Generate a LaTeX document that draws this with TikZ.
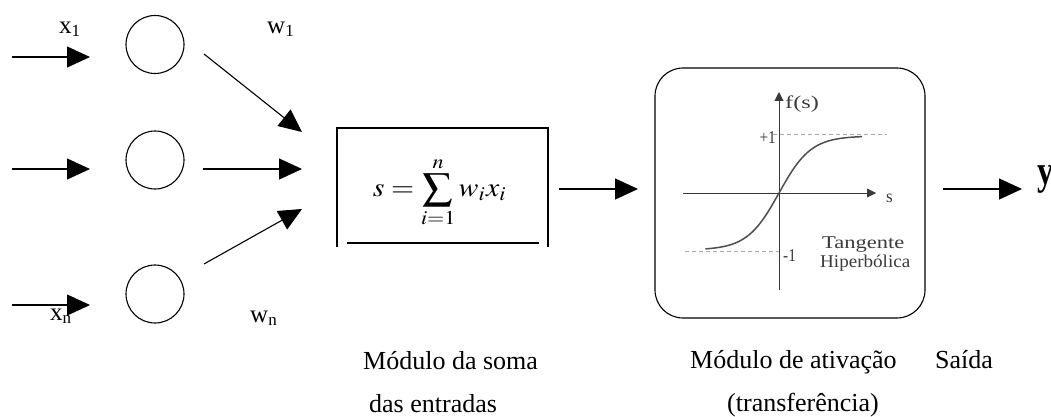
\documentclass[tikz,border=0pt]{standalone}
\usepackage{graphicx}
\usepackage{mathptmx}
\usepackage[no-math]{fontspec}
\setmainfont{Liberation Serif}
\usetikzlibrary{arrows.meta}
\newcommand{\sublab}[2]{{\fontsize{25}{28}\selectfont #1\raisebox{-3pt}{\fontsize{17}{17}\selectfont #2}}}
\newcommand{\gtext}[2]{\scalebox{#1}[1]{\fontsize{18}{18}\selectfont #2}}
\definecolor{graphgray}{HTML}{3A3A3A}
\definecolor{dashgray}{HTML}{A8A8A8}
\begin{document}
\begin{tikzpicture}[x=1pt,y=-1pt,
  lw/.style={line width=1.1pt},
  bigarrow/.style={lw, -{Triangle[length=23pt,width=21pt]}},
  neuron/.style={circle, draw, lw, minimum size=58pt, inner sep=0pt},
  lbl/.style={inner sep=0pt, anchor=base west, font=\fontsize{26}{30}\selectfont},
  axisline/.style={line width=0.9pt, draw=graphgray, -{Triangle[length=9pt,width=9pt]}},
  guide/.style={line width=0.8pt, draw=dashgray, dash pattern=on 4pt off 3pt},
  glbl/.style={inner sep=0pt, text=graphgray}]
\useasboundingbox (0,0) rectangle (1051,417);

% neurons
\node[neuron] (n1) at (155,44.5) {};
\node[neuron] (n2) at (155,160) {};
\node[neuron] (n3) at (155,294) {};

% input arrows
\coordinate (i1s) at (12,57);  \coordinate (i1e) at (90,57);
\coordinate (i2s) at (12,169); \coordinate (i2e) at (90,169);
\coordinate (i3s) at (12,305); \coordinate (i3e) at (90,305);
\draw[bigarrow] (i1s) -- (i1e);
\draw[bigarrow] (i2s) -- (i2e);
\draw[bigarrow] (i3s) -- (i3e);

% labels x, w
\node[inner sep=0pt, anchor=base west] (x1) at (59,34) {\sublab{x}{1}};
\node[inner sep=0pt, anchor=base west] (w1) at (267,34) {\sublab{w}{1}};
\node[inner sep=0pt, anchor=base west] (xn) at (50,320) {\sublab{x}{n}};
\node[inner sep=0pt, anchor=base west] (wn) at (250,322) {\sublab{w}{n}};

% weighted connections
\coordinate (o1) at (204,54);  \coordinate (t1) at (302,132);
\coordinate (o2) at (203,169); \coordinate (t2) at (302,169);
\coordinate (o3) at (204,264); \coordinate (t3) at (302,209);
\draw[bigarrow] (o1) -- (t1);
\draw[bigarrow] (o2) -- (t2);
\draw[bigarrow] (o3) -- (t3);

% summation box
\coordinate (sTL) at (337,128); \coordinate (sTR) at (548,128);
\coordinate (sBL) at (337,247); \coordinate (sBR) at (548,247);
\coordinate (sb1) at (347,243); \coordinate (sb2) at (539,243);
\draw[lw] (sBL) -- (sTL) -- (sTR) -- (sBR);
\draw[lw] (sb1) -- (sb2);
\node[inner sep=0pt] (sum) at (440,192) {\resizebox*{134pt}{70pt}{$\displaystyle s=\sum_{i=1}^{n} w_i x_i$}};

% arrow to activation
\coordinate (m1) at (559,189); \coordinate (m2) at (638,189);
\draw[bigarrow] (m1) -- (m2);

% activation box
\node[draw, lw, rounded corners=28pt, minimum width=270pt, minimum height=250pt, inner sep=0pt] (act) at (790,193) {};

% graph inside
\coordinate (vb) at (779,290); \coordinate (vt) at (779,92);
\coordinate (hl) at (683,193); \coordinate (hr) at (876,193);
\coordinate (p1a) at (773,134); \coordinate (p1b) at (887,134);
\coordinate (m1a) at (685,251); \coordinate (m1b) at (780,251);
\draw[guide] (p1a) -- (p1b);
\draw[guide] (m1a) -- (m1b);
\draw[axisline] (vb) -- (vt);
\draw[axisline] (hl) -- (hr);
\draw[line width=1.5pt, draw=graphgray!90] plot[domain=-2.3:2.6, samples=80, smooth] ({779+32*\x},{193-57*tanh(\x)});
\node[glbl, anchor=west] (fs) at (785,104) {\gtext{1.35}{f(s)}};
\node[glbl, anchor=east] (pl) at (776,138) {\gtext{0.85}{+1}};
\node[glbl, anchor=west] (mi) at (783,256) {\gtext{0.85}{-1}};
\node[glbl, anchor=west] (sl) at (886,198) {\gtext{0.95}{s}};
\node[glbl, anchor=base west] (tg) at (822,248) {\gtext{1.25}{Tangente}};
\node[glbl, anchor=base west] (hp) at (820,267) {\gtext{1.06}{Hiperbólica}};

% output
\coordinate (y1) at (943,189); \coordinate (y2) at (1022,189);
\draw[bigarrow] (y1) -- (y2);
\node[inner sep=0pt, anchor=base west] (yout) at (1037,184) {\scalebox{0.8}[1]{\fontsize{41}{41}\selectfont\bfseries y}};

% bottom captions
\node[lbl] (c1) at (363,369) {Módulo da soma};
\node[lbl] (c2) at (369,412) {das entradas};
\node[lbl] (c3) at (690,368) {Módulo de ativação};
\node[lbl] (c4) at (727,411) {(transferência)};
\node[lbl] (c5) at (935,368) {Saída};
\end{tikzpicture}
\end{document}
